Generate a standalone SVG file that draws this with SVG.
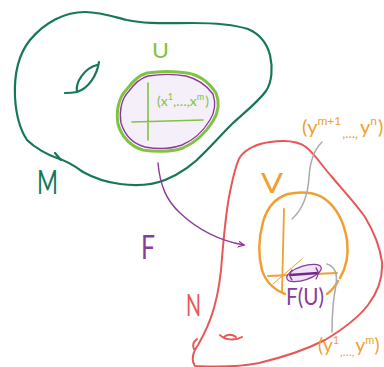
<svg xmlns="http://www.w3.org/2000/svg" width="384" height="367" viewBox="0 0 384 367">
<style>
.dg{fill:none;stroke:#17775a;stroke-width:2.2;stroke-linecap:round;stroke-linejoin:round}
.lg{fill:none;stroke:#80c342;stroke-linecap:round;stroke-linejoin:round}
.pu{fill:none;stroke:#8a3a9c;stroke-linecap:round;stroke-linejoin:round}
.rd{fill:none;stroke:#e85656;stroke-width:2;stroke-linecap:round;stroke-linejoin:round}
.or{fill:none;stroke:#f0a030;stroke-linecap:round;stroke-linejoin:round}
.gr{fill:none;stroke:#aaaaaa;stroke-width:1.5;stroke-linecap:round}
.t{font-family:Lato,"Liberation Sans",sans-serif;font-weight:400}
</style>
<defs>
<marker id="ah" markerWidth="8" markerHeight="8" refX="6" refY="3" orient="auto" markerUnits="userSpaceOnUse">
<path d="M0,0 L6,3 L0,6" fill="none" stroke="#8a3a9c" stroke-width="1.3" stroke-linecap="round"/>
</marker>
</defs>
<rect width="384" height="367" fill="#ffffff"/>

<g id="manifold-M">
<path class="dg" d="M57,158 C48,155 35,148 27,140 C19,128 16,115 15,97 C14,75 18,55 30,40 C45,22 65,12 85,12 C100,12 115,17 127,20 C145,24 165,23 192,23 C215,23 235,25 248,29 C260,34 267,44 270,55 C273,68 272,82 266,91 C258,102 245,112 232,124 C222,134 214,143 205,152 C195,163 182,173 165,180 C150,186 135,186 120,184 C105,182 92,177 83,172 C75,166 67,161 57,158"/>
<path class="dg" d="M55,153 L61,160"/>
<path class="dg" d="M65,93 Q72,93 77,92 C75,82 85,68 97,65 M77,92 C89,88 97,75 99,62"/>
<text class="t" x="37" y="194" font-size="32" fill="#17775a" textLength="21" lengthAdjust="spacingAndGlyphs">M</text>
</g>

<g id="chart-U">
<path class="lg" stroke-width="3" d="M147,73 C160,71 175,71 187,73 C200,75 210,84 216,93 C220,103 218,113 213,121 C207,131 196,142 183,148 C172,152 155,152 143,150 C132,147 122,138 118,124 C116,112 118,98 127,89 C132,82 140,75 147,73 Z"/>
<path class="pu" stroke-width="1.4" style="fill:#f5effa" d="M148,76 C160,74 175,74 186,76 C198,79 207,86 213,94 C216,103 215,112 210,120 C204,130 194,140 182,145 C171,149 156,149 145,147 C134,144 125,136 121,123 C119,112 121,99 129,91 C134,84 141,78 148,76 Z"/>
<path class="lg" stroke-width="1.6" d="M148,83 L148,140 M132,122 L203,120"/>
<text class="t" x="157" y="106" font-size="14" fill="#80c342">(x<tspan dy="-6" font-size="9">1</tspan><tspan dy="6">,…,x</tspan><tspan dy="-6" font-size="9">m</tspan><tspan dy="6" dx="1">)</tspan></text>
<text class="t" x="152" y="58" font-size="22" fill="#80c342" textLength="17" lengthAdjust="spacingAndGlyphs">U</text>
</g>

<g id="manifold-N">
<path class="rd" d="M240,157 C246,149 256,144 270,142 C285,140 298,141 306,147 C315,154 322,166 332,177 C342,189 355,203 365,217 C374,232 380,247 382,262 C383,278 378,292 368,305 C358,318 345,328 325,340 C305,350 280,358 259,363 C240,367 215,367 195,366 C191,360 193,352 198,345 C205,333 210,322 214,308 C219,290 221,275 222,258 C224,235 226,210 230,192 C233,177 236,164 240,157"/>
<path class="rd" stroke-width="1.5" d="M197,339 C193,342 192,345 194,349"/>
<path class="rd" stroke-width="1.5" d="M220,335 C224,340 235,341 242,337 M224,337 C227,334 232,334 236,337"/>
<text class="t" x="186" y="316" font-size="31" fill="#e85656" textLength="15" lengthAdjust="spacingAndGlyphs">N</text>
</g>

<g id="chart-V">
<path class="or" stroke-width="2.5" d="M285,294 C275,290 266,283 262,270 C258,255 259,237 263,222 C267,208 275,198 288,194 C300,191 315,192 325,199 C337,208 344,222 347,240 C349,256 346,268 340,278 M338,281 C335,287 331,291 327,294"/>
<path class="or" stroke-width="1.8" d="M284,209 L282,292 M268,276 L337,273"/>
<path class="or" stroke-width="1" d="M273,284 L302,259"/>
<text class="t" x="261" y="193" font-size="27" fill="#f0a030" textLength="22" lengthAdjust="spacingAndGlyphs">V</text>
</g>

<g id="image-FU">
<ellipse cx="304" cy="273" rx="18" ry="7" transform="rotate(-18 304 273)" fill="#efe3f6" stroke="#8a3a9c" stroke-width="1.2"/>
<path class="pu" stroke-width="2.6" style="stroke:#6e2a88" d="M290,275 L318,273"/>
<path class="pu" stroke-width="1.3" d="M292,270 Q288,275 292,280 M316,268 Q320,273 316,279"/>
<text class="t" x="286" y="305" font-size="24" fill="#8a3a9c" textLength="38" lengthAdjust="spacingAndGlyphs">F(U)</text>
</g>

<g id="labels">
<text class="t" x="141" y="259" font-size="33" fill="#8a3a9c" textLength="14" lengthAdjust="spacingAndGlyphs">F</text>
<text class="t" x="302" y="134" font-size="20" fill="#f0a030">(y<tspan dy="-9" font-size="12">m+1</tspan><tspan dy="13" font-size="13" dx="1">,…,</tspan><tspan dy="-4" dx="2">y</tspan><tspan dy="-9" font-size="12">n</tspan><tspan dy="9" dx="1">)</tspan></text>
<text class="t" x="318" y="352" font-size="19" fill="#f0a030">(y<tspan dy="-8" font-size="11">1</tspan><tspan dy="12" font-size="12" dx="1">,…,</tspan><tspan dy="-4" dx="1">y</tspan><tspan dy="-8" font-size="11">m</tspan><tspan dy="8">)</tspan></text>
</g>

<g id="connectors">
<path class="pu" stroke-width="1.4" marker-end="url(#ah)" d="M158,163 C160,185 166,200 180,213 C195,227 215,240 244,245"/>
<path class="gr" d="M322,142 C314,150 310,160 309,177 C308,195 302,210 292,219"/>
<path class="gr" d="M327,264 C333,266 338,272 336,285 C333,300 332,315 332,332"/>
</g>
</svg>
